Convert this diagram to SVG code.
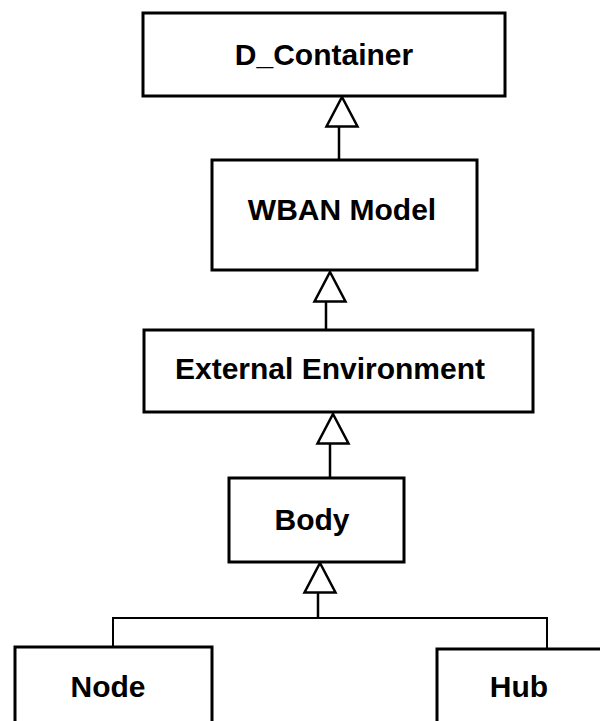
<svg xmlns="http://www.w3.org/2000/svg" xmlns:xlink="http://www.w3.org/1999/xlink" width="600" height="721" viewBox="0 0 600 721">
  <style>
    .box { fill: #ffffff; stroke: #000000; stroke-width: 3; }
    .label { font-family: "Liberation Sans", Arial, sans-serif; font-size: 30px; font-weight: bold; fill: #000000; text-anchor: middle; }
    .line { fill: none; stroke: #000000; stroke-width: 2.5; }
    .thin { fill: none; stroke: #000000; stroke-width: 1.8; }
    .head { fill: #ffffff; stroke: #000000; stroke-width: 2.5; stroke-linejoin: miter; }
  </style>
  <defs>
    <!-- hollow generalization arrowhead, apex at origin -->
    <path id="tri" class="head" d="M0,0 L15.5,29.5 L-15.5,29.5 Z"/>
  </defs>

  <rect width="600" height="721" fill="#ffffff"/>

  <g id="connectors">
    <!-- WBAN Model -> D_Container -->
    <line class="line" x1="339" y1="127" x2="339" y2="160"/>
    <use xlink:href="#tri" x="342" y="97"/>
    <!-- External Environment -> WBAN Model -->
    <line class="line" x1="326" y1="302" x2="326" y2="330"/>
    <use xlink:href="#tri" x="330" y="272"/>
    <!-- Body -> External Environment -->
    <line class="line" x1="330" y1="444" x2="330" y2="478"/>
    <use xlink:href="#tri" x="333" y="414"/>
    <!-- Node, Hub -> Body -->
    <line class="line" x1="318" y1="592" x2="318" y2="618"/>
    <polyline class="line" points="113,647 113,618 547,618 547,649" style="stroke-width:2"/>
    <use xlink:href="#tri" x="320" y="563"/>
  </g>

  <g id="d-container">
    <rect class="box" x="143" y="13" width="362" height="83"/>
    <text class="label" x="324" y="65">D_Container</text>
  </g>

  <g id="wban-model">
    <rect class="box" x="212" y="160" width="265" height="110"/>
    <text class="label" x="342" y="220">WBAN Model</text>
  </g>

  <g id="external-environment">
    <rect class="box" x="144" y="330" width="389" height="82"/>
    <text class="label" x="330" y="379">External Environment</text>
  </g>

  <g id="body">
    <rect class="box" x="229" y="478" width="175" height="84"/>
    <text class="label" x="312" y="530">Body</text>
  </g>

  <g id="node">
    <rect class="box" x="15" y="647" width="197" height="90"/>
    <text class="label" x="108" y="697">Node</text>
  </g>

  <g id="hub">
    <rect class="box" x="437" y="649" width="180" height="90"/>
    <text class="label" x="519" y="697">Hub</text>
  </g>
</svg>
